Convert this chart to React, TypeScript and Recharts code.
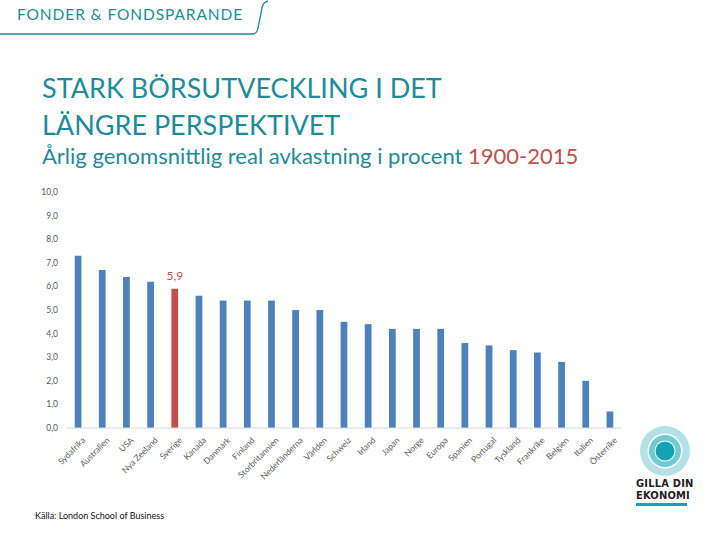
import * as React from "react";
import { Bar, BarChart, Cell, LabelList, XAxis, YAxis } from "recharts";

const countries = [
  "Sydafrika", "Australien", "USA", "Nya Zeeland", "Sverige", "Kanada", "Danmark",
  "Finland", "Storbritannien", "Nederländerna", "Världen", "Schweiz", "Irland",
  "Japan", "Norge", "Europa", "Spanien", "Portugal", "Tyskland", "Frankrike",
  "Belgien", "Italien", "Österrike",
];
const realReturn = [
  7.3, 6.7, 6.4, 6.2, 5.9, 5.6, 5.4, 5.4, 5.4, 5.0, 5.0, 4.5, 4.4,
  4.2, 4.2, 4.2, 3.6, 3.5, 3.3, 3.2, 2.8, 2.0, 0.7,
];
const yTicks = [0, 1, 2, 3, 4, 5, 6, 7, 8, 9, 10];
const highlight = "Sverige";

const data = countries.map((c, i) => ({ country: c, value: realReturn[i] }));

const TEAL = "#1d8c98";
const BLUE = "#4f81bd";
const RED = "#c0504d";
const FONT = "Lato, 'Open Sans', sans-serif";

const fmt = (v: number) => v.toFixed(1).replace(".", ",");

function CountryTick(props: any) {
  const { x, y, payload } = props;
  return (
    <g transform={`translate(${x + 5},${y + 2})`}>
      <text
        transform="rotate(-45)"
        textAnchor="end"
        dy={4}
        fontSize={8.5}
        fill="#595959"
        fontFamily={FONT}
      >
        {payload.value}
      </text>
    </g>
  );
}

function SverigeLabel(props: any) {
  const { x, y, width, index, value } = props;
  if (countries[index] !== highlight) return null;
  return (
    <text
      x={x + width / 2}
      y={y - 9}
      textAnchor="middle"
      fontSize={12}
      fill={RED}
      fontFamily={FONT}
    >
      {fmt(value)}
    </text>
  );
}

export default function App() {
  return (
    <div
      style={{
        position: "absolute",
        left: 0,
        top: 0,
        width: 720,
        height: 540,
        background: "#fff",
        fontFamily: FONT,
        overflow: "hidden",
      }}
    >
      <svg width={720} height={540} style={{ position: "absolute", left: 0, top: 0 }}>
        <path
          d="M0 34 L252 34 Q257 34 258 28 L262 8 Q263 2 268 1"
          fill="none"
          stroke={TEAL}
          strokeWidth={1.3}
        />
        <circle cx={665} cy={451} r={25} fill="#b3e1e6" />
        <circle cx={665} cy={451} r={17.5} fill="#ffffff" />
        <circle cx={665} cy={451} r={16} fill="#6fcad2" />
        <circle cx={665} cy={451} r={10.5} fill="#ffffff" />
        <circle cx={665} cy={451} r={9.5} fill="#13a3b2" />
        <rect x={636} y={503} width={51} height={3} fill="#1aa3b1" />
      </svg>

      <div
        style={{
          position: "absolute",
          left: 17,
          top: 5,
          fontSize: 15.5,
          color: TEAL,
          letterSpacing: 0.9,
        }}
      >
        FONDER &amp; FONDSPARANDE
      </div>

      <div
        style={{
          position: "absolute",
          left: 42,
          top: 69,
          fontSize: 27,
          lineHeight: "37px",
          color: TEAL,
        }}
      >
        STARK BÖRSUTVECKLING I DET
        <br />
        LÄNGRE PERSPEKTIVET
      </div>

      <div
        style={{
          position: "absolute",
          left: 42,
          top: 142,
          fontSize: 22,
          color: TEAL,
        }}
      >
        Årlig genomsnittlig real avkastning i procent{" "}
        <span style={{ color: RED }}>1900-2015</span>
      </div>

      <div
        style={{
          position: "absolute",
          left: 636,
          top: 478,
          fontSize: 11,
          lineHeight: "12px",
          fontWeight: 700,
          fontFamily: "'DejaVu Sans Condensed', 'DejaVu Sans', sans-serif",
          color: "#222",
          letterSpacing: 0.2,
        }}
      >
        GILLA DIN
        <br />
        EKONOMI
      </div>

      <div
        style={{
          position: "absolute",
          left: 35,
          top: 510,
          fontSize: 9,
          color: "#111",
        }}
      >
        Källa: London School of Business
      </div>

      <div style={{ position: "absolute", left: 0, top: 0 }}>
        <BarChart
          width={720}
          height={540}
          data={data}
          margin={{ top: 192, right: 98, left: 36, bottom: 52 }}
          barCategoryGap="64%"
        >
          <XAxis
            dataKey="country"
            interval={0}
            tick={<CountryTick />}
            tickLine={false}
            axisLine={{ stroke: "#d9d9d9" }}
            height={60}
          />
          <YAxis
            domain={[0, 10]}
            ticks={yTicks}
            tickFormatter={fmt}
            width={30}
            axisLine={false}
            tickLine={false}
            tick={{ fontSize: 8.5, fill: "#595959", fontFamily: FONT }}
          />
          <Bar dataKey="value" isAnimationActive={false}>
            {data.map((d) => (
              <Cell key={d.country} fill={d.country === highlight ? RED : BLUE} />
            ))}
            <LabelList dataKey="value" content={<SverigeLabel />} />
          </Bar>
        </BarChart>
      </div>
    </div>
  );
}
